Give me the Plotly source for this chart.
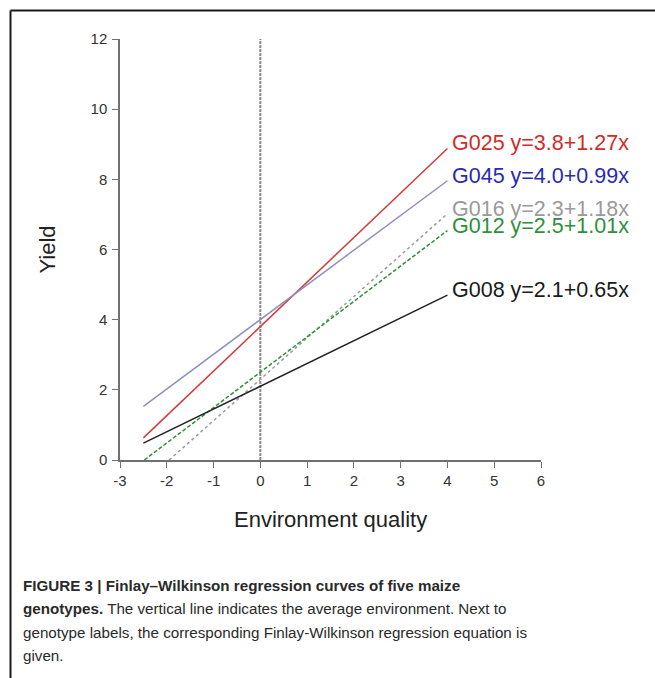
import plotly.graph_objects as go

# ---- data ----
genotypes = ["G025", "G045", "G016", "G012", "G008"]
equations = ["y=3.8+1.27x", "y=4.0+0.99x", "y=2.3+1.18x", "y=2.5+1.01x", "y=2.1+0.65x"]
x_start = [-2.5, -2.5, -1.95, -2.48, -2.5]
y_start = [0.63, 1.53, 0.0, 0.0, 0.48]
x_end = [4.0, 4.0, 4.0, 4.0, 4.0]
y_end = [8.88, 7.96, 7.02, 6.54, 4.70]

line_colors = ["#d43a3a", "#8f8fbf", "#9a9a9a", "#2f8f3a", "#222222"]
text_colors = ["#d42a2a", "#2a2ab0", "#9a9a9a", "#2f8f3a", "#1a1a1a"]
line_dashes = ["solid", "solid", "dot", "4px,2px", "solid"]

avg_env_x = [0, 0]
avg_env_y = [0, 12]

x_ticks = [-3, -2, -1, 0, 1, 2, 3, 4, 5, 6]
x_tick_labels = ["-3", "-2", "-1", "0", "1", "2", "3", "4", "5", "6"]
y_ticks = [0, 2, 4, 6, 8, 10, 12]
y_tick_labels = ["0", "2", "4", "6", "8", "10", "12"]

caption_lines = [
    "<b>FIGURE 3 | Finlay–Wilkinson regression curves of five maize</b>",
    "<b>genotypes.</b> The vertical line indicates the average environment. Next to",
    "genotype labels, the corresponding Finlay-Wilkinson regression equation is",
    "given.",
]

# ---- figure ----
W, H = 655, 678
L, R, T, B = 120, 114, 39, 218
pw, ph = W - L - R, H - T - B


def px2paper(px, py):
    return (px - L) / pw, (H - B - py) / ph


fig = go.Figure()

fig.add_trace(go.Scatter(
    x=avg_env_x, y=avg_env_y, mode="lines",
    line=dict(color="#8a8a8a", width=2, dash="3px,1px"),
    hoverinfo="skip", showlegend=False))

for i, g in enumerate(genotypes):
    fig.add_trace(go.Scatter(
        x=[x_start[i], x_end[i]], y=[y_start[i], y_end[i]], mode="lines",
        line=dict(color=line_colors[i], width=1.5, dash=line_dashes[i]),
        name=g, showlegend=False))
    fig.add_annotation(
        x=x_end[i], y=y_end[i], xref="x", yref="y",
        text=f"{g} {equations[i]}", showarrow=False,
        xanchor="left", yanchor="middle", xshift=3, yshift=5,
        font=dict(family="Liberation Sans, Arial", size=21.5, color=text_colors[i]))

axis_common = dict(
    showgrid=False, zeroline=False, showline=True,
    linecolor="#707070", linewidth=1.5,
    ticks="outside", ticklen=6, tickwidth=1.2, tickcolor="#707070",
    tickfont=dict(family="Liberation Sans, Arial", size=15, color="#333333"),
)

fig.update_xaxes(range=[-3, 6], tickvals=x_ticks, ticktext=x_tick_labels, **axis_common)
fig.update_yaxes(range=[0, 12], tickvals=y_ticks, ticktext=y_tick_labels,
                 ticklabelstandoff=2, **axis_common)

# axis titles
ax, ay = px2paper(330, 519)
fig.add_annotation(x=0.5, y=ay, xref="paper", yref="paper", text="Environment quality",
                   showarrow=False, xanchor="center", yanchor="middle",
                   font=dict(family="Liberation Sans, Arial", size=22, color="#222222"))
yx, yy = px2paper(47, 250)
fig.add_annotation(x=yx, y=0.5, xref="paper", yref="paper", text="Yield", textangle=-90,
                   showarrow=False, xanchor="center", yanchor="middle",
                   font=dict(family="Liberation Sans, Arial", size=22, color="#222222"))

# caption
cap_y = [585, 608.5, 632, 655.5]
for txt, cy in zip(caption_lines, cap_y):
    cx, cyp = px2paper(21, cy)
    fig.add_annotation(x=cx, y=cyp, xref="paper", yref="paper", text=txt,
                       showarrow=False, xanchor="left", yanchor="middle",
                       font=dict(family="Liberation Sans, Arial", size=15.2, color="#2a2a2a"))

# frame lines (top and left)
x0, y0 = px2paper(10.5, 10.5)
x1, _ = px2paper(655, 10.5)
_, y1 = px2paper(10.5, 678)
fig.add_shape(type="line", xref="paper", yref="paper", x0=x0, y0=y0, x1=x1, y1=y0,
              line=dict(color="#1a1a1a", width=2))
fig.add_shape(type="line", xref="paper", yref="paper", x0=x0, y0=y0, x1=x0, y1=y1,
              line=dict(color="#1a1a1a", width=2))

fig.update_layout(
    width=W, height=H,
    margin=dict(l=L, r=R, t=T, b=B, pad=0),
    paper_bgcolor="white", plot_bgcolor="white",
    showlegend=False,
)

fig.write_html("out.html", config={"displayModeBar": False},
               post_script="document.body.style.margin='0';document.body.style.overflow='hidden';")
